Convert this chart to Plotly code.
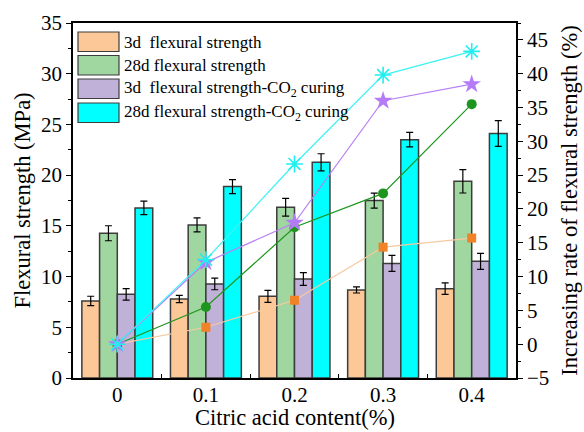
import plotly.graph_objects as go

# Citric acid content (%) for each mix
content = [0, 0.1, 0.2, 0.3, 0.4]
tick_text = ["0", "0.1", "0.2", "0.3", "0.4"]

# Flexural strength (MPa) and standard deviations
s3d = [7.6, 7.79, 8.05, 8.68, 8.81]
s3d_err = [0.46, 0.35, 0.59, 0.3, 0.56]
s28d = [14.27, 15.09, 16.83, 17.49, 19.39]
s28d_err = [0.74, 0.69, 0.87, 0.74, 1.15]
s3d_co2 = [8.25, 9.27, 9.76, 11.3, 11.5]
s3d_co2_err = [0.57, 0.57, 0.63, 0.79, 0.79]
s28d_co2 = [16.77, 18.87, 21.27, 23.5, 24.1]
s28d_co2_err = [0.66, 0.69, 0.84, 0.72, 1.27]

# Increasing rate of flexural strength (%)
r3d = [0, 2.5, 6.5, 14.35, 15.7]
r28d = [0, 5.5, 17.3, 22.3, 35.5]
r3d_co2 = [0, 12.1, 17.95, 36.0, 38.45]
r28d_co2 = [0, 12.5, 26.65, 39.8, 43.3]

labels = [
    "3d  flexural strength",
    "28d flexural strength",
    "3d  flexural strength-CO<sub>2</sub> curing",
    "28d flexural strength-CO<sub>2</sub> curing",
]
bar_colors = ["#FCC897", "#A0D6A0", "#C0B1D8", "#00FFFF"]

FONT = "Liberation Serif"
W, H = 584, 432
L, R, T, B = 73, 68, 23, 54

fig = go.Figure()

bars = [(s3d, s3d_err), (s28d, s28d_err), (s3d_co2, s3d_co2_err), (s28d_co2, s28d_co2_err)]
for (vals, err), name, col in zip(bars, labels, bar_colors):
    fig.add_trace(go.Bar(
        x=content, y=vals, name=name, marker=dict(color=col, line=dict(color="#3c3c3c", width=1.5)),
        error_y=dict(type="data", array=err, color="black", thickness=1.2, width=3.5),
        showlegend=False, yaxis="y",
    ))

lines = [
    (r3d, "#F6C9A0", "square", "#F08228", 9, 0),
    (r28d, "#1E961E", "circle", "#1E961E", 10, 0),
    (r3d_co2, "#B881F5", "star", "#B57BF7", 14, 0),
    (r28d_co2, "#3DF2F2", "asterisk-open", "#1FEFEF", 14, 1.6),
]
for vals, lc, sym, mc, ms, mlw in lines:
    fig.add_trace(go.Scatter(
        x=content, y=vals, mode="lines+markers", yaxis="y2", showlegend=False,
        line=dict(color=lc, width=1.2),
        marker=dict(symbol=sym, color=mc, size=ms, line=dict(color=mc, width=mlw)),
    ))

# Pixel -> paper coordinate helpers for the plot area
pw = W - L - R
ph = H - T - B
def px(x):
    return (x - L) / pw
def py(y):
    return 1 - (y - T) / ph

# Legend drawn as wide swatches with labels
row_tops = [32, 55.5, 79, 103]
for top, name, col in zip(row_tops, labels, bar_colors):
    fig.add_shape(type="rect", xref="paper", yref="paper",
                  x0=px(78), x1=px(119), y0=py(top + 19.5), y1=py(top),
                  fillcolor=col, line=dict(color="#3c3c3c", width=1.2))
    fig.add_annotation(xref="paper", yref="paper", x=px(122), y=py(top + 10),
                       text=name, showarrow=False, xanchor="left", yanchor="middle",
                       font=dict(family=FONT, size=17, color="black"))

tick_font = dict(family=FONT, size=21, color="black")
title_font = dict(family=FONT, size=22.5, color="black")

# x-axis title
fig.add_annotation(xref="paper", yref="paper", x=0.5, y=py(432), xanchor="center", yanchor="bottom",
                   text="Citric acid content(%)", showarrow=False, font=title_font)

fig.update_layout(
    width=W, height=H,
    margin=dict(l=L, r=R, t=T, b=B),
    paper_bgcolor="white", plot_bgcolor="white",
    barmode="group", bargap=0.2, bargroupgap=0,
    font=dict(family=FONT, color="black"),
    xaxis=dict(
        range=[-0.05, 0.45], tickvals=content, ticktext=tick_text, ticks="",
        tickfont=tick_font, showline=True, linecolor="black", linewidth=1.5, mirror=True,
        showgrid=False, zeroline=False, ticklabelstandoff=-3,
        minor=dict(tickvals=[0.05, 0.15, 0.25, 0.35], ticks="inside", ticklen=4, tickcolor="black", tickwidth=1.2),
        automargin=False,
    ),
    yaxis=dict(
        range=[0, 35], dtick=5, ticks="outside", ticklen=5, tickwidth=1.2, tickcolor="black",
        tickfont=tick_font, showline=True, linecolor="black", linewidth=1.5,
        showgrid=False, zeroline=False,
        minor=dict(dtick=2.5, ticks="outside", ticklen=3, tickcolor="black", tickwidth=1.2),
        title=dict(text="Flexural strength (MPa)", font=title_font, standoff=4),
        automargin=False,
    ),
    yaxis2=dict(
        range=[-5, 47.5], dtick=5, tick0=0, overlaying="y", side="right",
        ticks="outside", ticklen=5, tickwidth=1.2, tickcolor="black",
        tickfont=tick_font, showline=True, linecolor="black", linewidth=1.5,
        showgrid=False, zeroline=False,
        minor=dict(dtick=2.5, ticks="outside", ticklen=3, tickcolor="black", tickwidth=1.2),
        title=dict(text="Increasing rate of flexural strength (%)", font=title_font, standoff=13),
        automargin=False,
    ),
)

fig.write_html("out.html")
